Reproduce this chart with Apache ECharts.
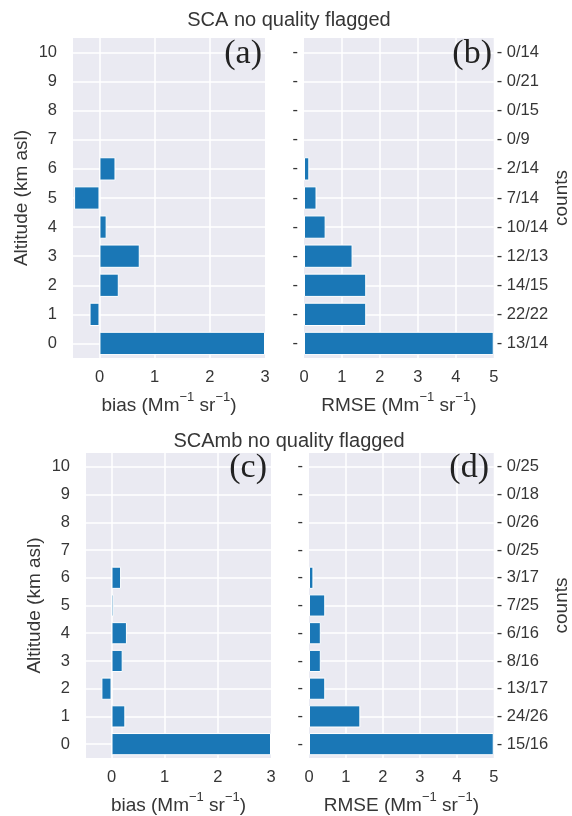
<!DOCTYPE html>
<html>
<head>
<meta charset="utf-8">
<script src="https://cdn.jsdelivr.net/npm/echarts@6/dist/echarts.min.js"></script>
<style>
html,body{margin:0;padding:0;background:#fff;}
#chart{width:572px;height:816px;}
</style>
</head>
<body>
<div id="chart"></div>
<script>
const altitudes = ['0','1','2','3','4','5','6','7','8','9','10'];
const biasSCA = [3.0, -0.18, 0.35, 0.73, 0.13, -0.46, 0.29, null, null, null, null];
const rmseSCA = [5.0, 1.64, 1.64, 1.28, 0.57, 0.33, 0.14, null, null, null, null];
const countsSCA = ['13/14','22/22','14/15','12/13','10/14','7/14','2/14','0/9','0/15','0/21','0/14'];
const biasSCAmb = [3.0, 0.26, -0.19, 0.21, 0.29, 0.04, 0.18, null, null, null, null];
const rmseSCAmb = [5.0, 1.39, 0.44, 0.32, 0.32, 0.44, 0.12, null, null, null, null];
const countsSCAmb = ['15/16','24/26','13/17','8/16','6/16','7/25','3/17','0/25','0/26','0/18','0/25'];
const biasTicks = [0, 1, 2, 3];
const rmseTicks = [0, 1, 2, 3, 4, 5];

const FONT = "'Liberation Sans', Arial, sans-serif";
const TXT = '#363636';
const BG = '#eaeaf2';
const BAR = '#1a77b6';
const TICK_FS = 16.5;
const NAME_FS = 19;

const chart = echarts.init(document.getElementById('chart'), null, {renderer: 'canvas'});

const nameRich = {
  n: {fontFamily: FONT, fontSize: NAME_FS, color: TXT, lineHeight: 24, verticalAlign: 'bottom'},
  s: {fontFamily: FONT, fontSize: 13, color: TXT, lineHeight: 14, verticalAlign: 'top'}
};
function unitName(prefix) {
  return '{n|' + prefix + ' (Mm}{s|\u22121}{n| sr}{s|\u22121}{n|)}';
}

const grids = [
  {left: 73, top: 38, width: 192, height: 320},
  {left: 304, top: 38, width: 193, height: 320},
  {left: 86, top: 453, width: 185, height: 307},
  {left: 309, top: 453, width: 185, height: 307}
];

function xAx(gi, min, max, ticks, name) {
  return {
    type: 'value', gridIndex: gi, min: min, max: max, splitNumber: ticks.length - 1,
    axisLine: {show: false}, axisTick: {show: false},
    axisLabel: {show: true, margin: 11, fontFamily: FONT, fontSize: TICK_FS, color: TXT, showMinLabel: min === ticks[0], showMaxLabel: true,
      formatter: v => (ticks.indexOf(v) >= 0 ? String(v) : '')},
    splitLine: {show: true, showMinLine: false, showMaxLine: false, lineStyle: {color: '#ffffff', width: 1.5}},
    name: name, nameLocation: 'middle', nameGap: 33,
    nameTextStyle: {rich: nameRich}
  };
}
function yLeft(gi, showLabels, showName) {
  return {
    type: 'category', gridIndex: gi, data: altitudes, position: 'left',
    boundaryGap: true,
    axisLine: {show: false}, axisTick: {show: false},
    axisLabel: {show: true, margin: showLabels ? 16 : 6, fontFamily: FONT, fontSize: TICK_FS, color: TXT,
      formatter: v => (showLabels ? v : '-')},
    splitLine: {show: true, alignWithLabel: true, lineStyle: {color: '#ffffff', width: 1.5}},
    name: showName ? 'Altitude (km asl)' : '', nameLocation: 'middle', nameGap: 42, nameRotate: 90,
    nameTextStyle: {fontFamily: FONT, fontSize: NAME_FS, color: TXT}
  };
}
function yRight(gi, counts) {
  return {
    type: 'category', gridIndex: gi, data: counts, position: 'right',
    boundaryGap: true,
    axisLine: {show: false}, axisTick: {show: false},
    axisLabel: {show: true, margin: 3, fontFamily: FONT, fontSize: TICK_FS, color: TXT, formatter: v => '- ' + v},
    splitLine: {show: false},
    name: 'counts', nameLocation: 'middle', nameGap: 53, nameRotate: 90,
    nameTextStyle: {fontFamily: FONT, fontSize: NAME_FS, color: TXT}
  };
}

function barSeries(xi, yi, data) {
  return {
    type: 'bar', xAxisIndex: xi, yAxisIndex: yi, data: data, barWidth: '80%',
    itemStyle: {color: BAR, borderColor: '#ffffff', borderWidth: 1},
    silent: true, animation: false
  };
}

const letterStyle = {fontFamily: "'Liberation Serif', 'Times New Roman', serif", fontSize: 34, fontWeight: 'normal', color: '#222222'};

const option = {
  backgroundColor: '#ffffff',
  animation: false,
  title: [
    {text: 'SCA no quality flagged', left: 284, top: 5, textAlign: 'center', textStyle: {fontFamily: FONT, fontSize: 20, fontWeight: 'normal', color: TXT}},
    {text: 'SCAmb no quality flagged', left: 284, top: 426, textAlign: 'center', textStyle: {fontFamily: FONT, fontSize: 20, fontWeight: 'normal', color: TXT}},
    {text: '(a)', right: 310, top: 37, padding: 0, textStyle: letterStyle},
    {text: '(b)', right: 80, top: 37, padding: 0, textStyle: letterStyle},
    {text: '(c)', right: 305, top: 451, padding: 0, textStyle: letterStyle},
    {text: '(d)', right: 83, top: 451, padding: 0, textStyle: letterStyle}
  ],
  grid: grids.map(g => Object.assign({show: true, backgroundColor: BG, borderWidth: 0, containLabel: false}, g)),
  xAxis: [
    xAx(0, -0.48, 3, biasTicks, unitName('bias')),
    xAx(1, 0, 5, rmseTicks, unitName('RMSE')),
    xAx(2, -0.48, 3, biasTicks, unitName('bias')),
    xAx(3, 0, 5, rmseTicks, unitName('RMSE'))
  ],
  yAxis: [
    yLeft(0, true, true),
    yLeft(1, false, false),
    yRight(1, countsSCA),
    yLeft(2, true, true),
    yLeft(3, false, false),
    yRight(3, countsSCAmb)
  ],
  series: [
    barSeries(0, 0, biasSCA),
    barSeries(1, 1, rmseSCA),
    barSeries(2, 3, biasSCAmb),
    barSeries(3, 4, rmseSCAmb)
  ]
};
chart.setOption(option);
</script>
</body>
</html>
